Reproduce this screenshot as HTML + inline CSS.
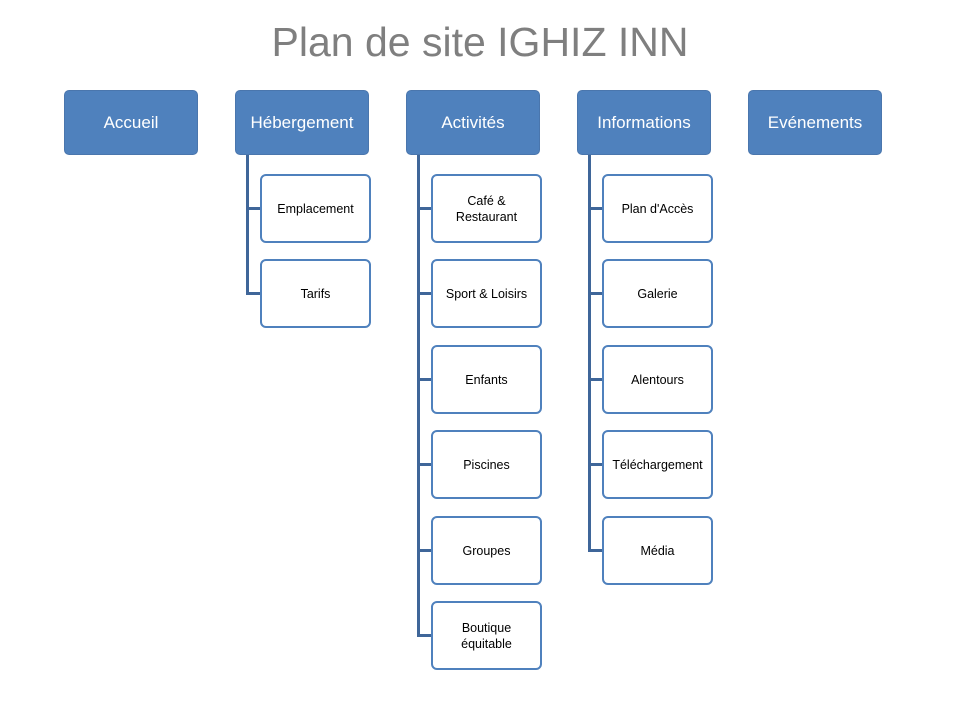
<!DOCTYPE html>
<html><head><meta charset="utf-8"><style>
body{margin:0;width:960px;height:720px;background:#fff;position:relative;font-family:"Liberation Sans","DejaVu Sans",sans-serif;overflow:hidden}
.t{position:absolute;left:0;width:960px;top:19px;text-align:center;font-size:41px;color:#7f7f7f}
.p{position:absolute;width:134px;height:65px;top:90px;background:#4f81bd;border-radius:5px;color:#fff;font-size:17px;display:flex;align-items:center;justify-content:center;box-sizing:border-box;border:1px solid #4a76ad}
.c{position:absolute;width:111px;height:69px;background:#fff;border:2.5px solid #4f81bd;border-radius:6px;box-sizing:border-box;font-size:12.5px;color:#000;display:flex;align-items:center;justify-content:center;text-align:center;line-height:16px}
.v{position:absolute;width:3px;background:#3f6699}
.h{position:absolute;height:3px;width:14px;background:#3f6699}
</style></head><body>
<div class="t">Plan de site IGHIZ INN</div>
<div class="p" style="left:64px">Accueil</div>
<div class="p" style="left:235px">Hébergement</div>
<div class="p" style="left:406px">Activités</div>
<div class="p" style="left:577px">Informations</div>
<div class="p" style="left:748px">Evénements</div>

<div class="v" style="left:246px;top:155px;height:140px"></div>
<div class="h" style="left:246px;top:207px"></div>
<div class="h" style="left:246px;top:292px"></div>
<div class="c" style="left:260px;top:174px">Emplacement</div>
<div class="c" style="left:260px;top:259px">Tarifs</div>

<div class="v" style="left:417px;top:155px;height:482px"></div>
<div class="h" style="left:417px;top:207px"></div>
<div class="h" style="left:417px;top:292px"></div>
<div class="h" style="left:417px;top:378px"></div>
<div class="h" style="left:417px;top:463px"></div>
<div class="h" style="left:417px;top:549px"></div>
<div class="h" style="left:417px;top:634px"></div>
<div class="c" style="left:431px;top:174px">Café &amp;<br>Restaurant</div>
<div class="c" style="left:431px;top:259px">Sport &amp; Loisirs</div>
<div class="c" style="left:431px;top:345px">Enfants</div>
<div class="c" style="left:431px;top:430px">Piscines</div>
<div class="c" style="left:431px;top:516px">Groupes</div>
<div class="c" style="left:431px;top:601px">Boutique<br>équitable</div>

<div class="v" style="left:588px;top:155px;height:397px"></div>
<div class="h" style="left:588px;top:207px"></div>
<div class="h" style="left:588px;top:292px"></div>
<div class="h" style="left:588px;top:378px"></div>
<div class="h" style="left:588px;top:463px"></div>
<div class="h" style="left:588px;top:549px"></div>
<div class="c" style="left:602px;top:174px">Plan d'Accès</div>
<div class="c" style="left:602px;top:259px">Galerie</div>
<div class="c" style="left:602px;top:345px">Alentours</div>
<div class="c" style="left:602px;top:430px">Téléchargement</div>
<div class="c" style="left:602px;top:516px">Média</div>
</body></html>
